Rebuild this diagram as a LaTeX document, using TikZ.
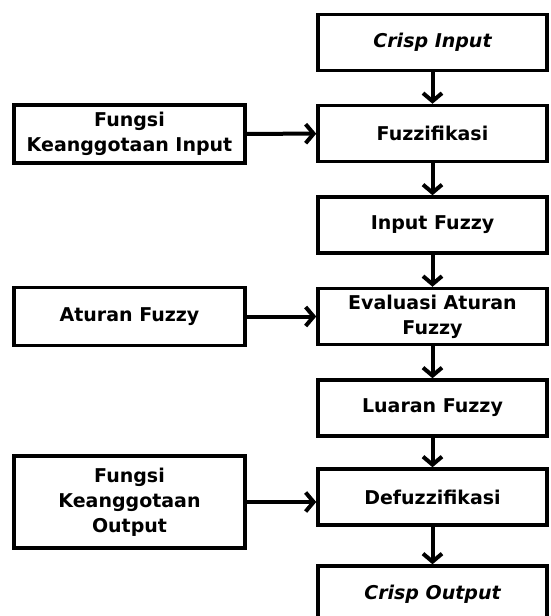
\documentclass[tikz,border=0pt]{standalone}
\usepackage{fontspec}
\setmainfont{DejaVu Sans}
\usepackage{tikz}
\usetikzlibrary{arrows.meta}

\begin{document}
\begin{tikzpicture}
			[x=1pt,y=-1pt,every node/.style={draw,line width=3.5pt,align=center,font=\bfseries\fontsize{19}{25}\selectfont,inner sep=2pt},
			 tahap/.style={minimum width=229pt,minimum height=56pt},
			 sumber/.style={minimum width=231pt,minimum height=58pt},
			 panah/.style={line width=4pt,-{Straight Barb[length=8pt,width=19pt]}}]
				\useasboundingbox (0,0) rectangle (551,616);
				\node [tahap](ci) at (432.5,42.5) {\itshape Crisp Input};
				\node [tahap](fz) at (432.5,133.5) {Fuzzifikasi};
				\node [tahap](inf) at (432.5,225) {Input Fuzzy};
				\node [tahap](ev) at (432.5,316.5) {Evaluasi Aturan\\Fuzzy};
				\node [tahap](lf) at (432.5,408) {Luaran Fuzzy};
				\node [tahap](dfz) at (432.5,497) {Defuzzifikasi};
				\node [tahap](co) at (432.5,594) {\itshape Crisp Output};
				\node [sumber](fki) at (129.5,134) {Fungsi\\Keanggotaan Input};
				\node [sumber](af) at (129.5,316.5) {Aturan Fuzzy};
				\node [sumber,minimum height=92pt](fko) at (129.5,502) {Fungsi\\Keanggotaan\\Output};
				\foreach \from/\to in {ci/fz,fz/inf,inf/ev,ev/lf,lf/dfz,dfz/co}
				\draw[panah] (\from) -- (\to);
				\foreach \from/\to in {fki/fz,af/ev}
				\draw[panah] (\from) -- (\to);
				\draw[panah] (fko.east) -- (fko.east -| dfz.west);
			\end{tikzpicture}
\end{document}
